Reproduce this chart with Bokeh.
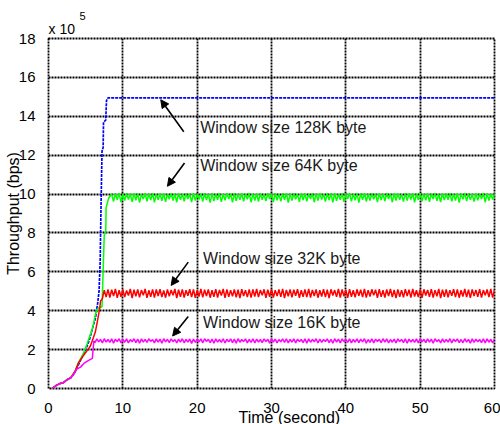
import numpy as np
from bokeh.plotting import figure
from bokeh.models import Range1d, FixedTicker, Label, Arrow, NormalHead, Title
from bokeh.embed import file_html
from bokeh.resources import INLINE

# ---- data: throughput (x 10^5 bps) versus time (s) for four TCP window sizes ----
X_TICKS = [0, 10, 20, 30, 40, 50, 60]
Y_TICKS = [0, 2, 4, 6, 8, 10, 12, 14, 16, 18]

# 128K window: slow start, then a flat line
BLUE_T = [0.5, 1.0, 1.5, 2.0, 2.5, 3.0, 3.5, 4.0, 4.5, 5.0, 5.5, 6.0, 6.3, 6.6,
          6.8, 6.95, 7.05, 7.2, 7.35, 7.4, 7.7, 7.8, 8.0, 60.0]
BLUE_V = [0, 0.15, 0.25, 0.3, 0.45, 0.55, 0.8, 1.2, 1.6, 2.0, 2.5, 3.2, 3.6, 4.35,
          5.0, 6.5, 9.0, 12.2, 12.4, 13.7, 13.8, 14.8, 14.95, 14.95]

# 64K window: slow start
GREEN_RISE_T = [0.5, 1.0, 1.5, 2.0, 2.5, 3.0, 3.6, 4.0, 4.7, 5.2, 5.65, 6.0, 6.3,
                6.7, 7.2, 7.5, 7.7, 7.75, 8.1, 8.5]
GREEN_RISE_V = [0, 0.15, 0.25, 0.3, 0.45, 0.55, 0.9, 1.3, 1.8, 2.3, 2.8, 3.2, 3.8,
                4.15, 4.2, 7.9, 8.0, 9.3, 9.8, 10.0]
# 64K window: steady state, sampled every 0.25 s from 8.75 s
GREEN_STEADY_START = 8.75
GREEN_STEADY = [
    9.62, 10.02, 9.70, 10.05, 9.58, 10.00, 9.66, 10.04, 9.72, 10.01, 9.60, 10.05, 9.68, 10.03, 9.56, 10.00, 9.74, 10.04,
    9.63, 10.02, 9.69, 10.05, 9.57, 10.01, 9.71, 10.03, 9.65, 10.05, 9.60, 10.00, 9.73, 10.04, 9.67, 10.02, 9.58, 10.05,
    9.70, 10.01, 9.62, 10.04, 9.75, 10.02, 9.59, 10.05, 9.66, 10.00, 9.72, 10.03, 9.61, 10.05, 9.69, 10.01, 9.56, 10.04,
    9.64, 10.02, 9.71, 10.05, 9.60, 10.00, 9.68, 10.04, 9.74, 10.03, 9.57, 10.05, 9.65, 10.01, 9.70, 10.04, 9.62, 10.02,
    9.73, 10.05, 9.58, 10.01, 9.67, 10.03, 9.61, 10.05, 9.70, 10.00, 9.64, 10.04, 9.75, 10.02, 9.59, 10.05, 9.68, 10.01,
    9.62, 10.03, 9.71, 10.05, 9.56, 10.02, 9.66, 10.04, 9.73, 10.00, 9.60, 10.05, 9.69, 10.03, 9.63, 10.01, 9.74, 10.04,
    9.58, 10.02, 9.67, 10.05, 9.72, 10.01, 9.61, 10.04, 9.69, 10.03, 9.57, 10.05, 9.65, 10.00, 9.71, 10.04, 9.60, 10.02,
    9.74, 10.05, 9.63, 10.01, 9.68, 10.04, 9.56, 10.03, 9.70, 10.05, 9.62, 10.00, 9.66, 10.04, 9.73, 10.02, 9.59, 10.05,
    9.69, 10.01, 9.64, 10.04, 9.75, 10.02, 9.58, 10.05, 9.67, 10.03, 9.71, 10.00, 9.61, 10.05, 9.66, 10.02, 9.72, 10.04,
    9.57, 10.03, 9.70, 10.05, 9.63, 10.01, 9.68, 10.04, 9.60, 10.02, 9.74, 10.05, 9.65, 10.00, 9.59, 10.04, 9.69, 10.03,
    9.71, 10.05, 9.62, 10.02, 9.67, 10.04, 9.56, 10.01, 9.73, 10.05, 9.64, 10.03, 9.70, 10.00, 9.61, 10.04, 9.68, 10.02,
    9.75, 10.05, 9.58, 10.03, 9.66, 10.01, 9.72, 10.04, 9.60, 10.05, 9.69, 10.02, 9.63, 10.04, 9.70, 10.00, 9.65, 10.03,
]

# 32K window: slow start
RED_RISE_T = [0.5, 1.0, 1.5, 2.0, 2.5, 3.0, 3.6, 4.0, 4.7, 5.4, 5.65, 6.3, 6.6, 6.9, 7.0]
RED_RISE_V = [0, 0.15, 0.25, 0.3, 0.45, 0.55, 0.9, 1.3, 1.7, 2.05, 2.2, 2.9, 3.5, 4.15, 4.5]
# 32K window: steady state, sampled every 0.25 s from 7.25 s
RED_STEADY_START = 7.25
RED_STEADY = [
    4.62, 5.06, 4.70, 5.10, 4.68, 5.08, 4.75, 5.12, 4.66, 5.06, 4.72, 5.10, 4.70, 5.04, 4.78, 5.12, 4.65, 5.08,
    4.74, 5.10, 4.69, 5.06, 4.80, 5.12, 4.66, 5.05, 4.72, 5.10, 4.68, 5.09, 4.76, 5.11, 4.70, 5.04, 4.67, 5.10,
    4.74, 5.07, 4.79, 5.12, 4.65, 5.08, 4.71, 5.10, 4.68, 5.05, 4.77, 5.11, 4.70, 5.09, 4.66, 5.06, 4.73, 5.12,
    4.69, 5.08, 4.75, 5.10, 4.67, 5.05, 4.72, 5.11, 4.68, 5.07, 4.78, 5.12, 4.66, 5.09, 4.71, 5.06, 4.74, 5.10,
    4.69, 5.08, 4.65, 5.11, 4.76, 5.05, 4.70, 5.10, 4.67, 5.09, 4.73, 5.12, 4.70, 5.06, 4.79, 5.10, 4.66, 5.08,
    4.72, 5.11, 4.68, 5.05, 4.75, 5.09, 4.71, 5.12, 4.65, 5.07, 4.74, 5.10, 4.69, 5.08, 4.77, 5.11, 4.66, 5.06,
    4.72, 5.09, 4.70, 5.12, 4.68, 5.07, 4.76, 5.10, 4.67, 5.05, 4.73, 5.11, 4.70, 5.08, 4.65, 5.10, 4.78, 5.06,
    4.71, 5.12, 4.68, 5.09, 4.74, 5.07, 4.66, 5.11, 4.72, 5.05, 4.69, 5.10, 4.77, 5.08, 4.70, 5.12, 4.67, 5.06,
    4.73, 5.10, 4.79, 5.08, 4.66, 5.11, 4.71, 5.05, 4.68, 5.09, 4.75, 5.12, 4.70, 5.07, 4.65, 5.10, 4.72, 5.06,
    4.69, 5.11, 4.76, 5.08, 4.67, 5.12, 4.73, 5.05, 4.70, 5.09, 4.66, 5.10, 4.78, 5.07, 4.71, 5.11, 4.68, 5.06,
    4.74, 5.12, 4.65, 5.08, 4.72, 5.10, 4.69, 5.06, 4.77, 5.11, 4.70, 5.09, 4.67, 5.05, 4.73, 5.12, 4.70, 5.08,
    4.66, 5.10, 4.75, 5.07, 4.71, 5.11, 4.68, 5.06, 4.79, 5.09, 4.70, 5.12, 4.67, 5.08, 4.74, 5.10, 4.69, 5.06,
]

# 16K window: slow start
MAGENTA_RISE_T = [0.5, 1.0, 1.5, 2.0, 2.5, 3.0, 3.5, 3.8, 4.3, 4.8, 5.4, 5.9, 6.1]
MAGENTA_RISE_V = [0, 0.15, 0.25, 0.3, 0.45, 0.55, 0.8, 1.0, 1.1, 1.3, 1.45, 1.55, 2.45]
# 16K window: steady state, sampled every 0.25 s from 6.25 s
MAGENTA_STEADY_START = 6.25
MAGENTA_STEADY = [
    2.36, 2.55, 2.40, 2.53, 2.34, 2.56, 2.39, 2.52, 2.37, 2.55, 2.33, 2.54, 2.41, 2.56, 2.35, 2.53, 2.38, 2.55,
    2.34, 2.52, 2.40, 2.56, 2.36, 2.54, 2.33, 2.55, 2.39, 2.53, 2.37, 2.56, 2.42, 2.52, 2.35, 2.55, 2.38, 2.54,
    2.33, 2.56, 2.40, 2.53, 2.36, 2.55, 2.41, 2.52, 2.34, 2.54, 2.38, 2.56, 2.35, 2.53, 2.39, 2.55, 2.32, 2.54,
    2.37, 2.52, 2.40, 2.55, 2.35, 2.56, 2.42, 2.53, 2.36, 2.54, 2.33, 2.55, 2.39, 2.52, 2.37, 2.56, 2.34, 2.53,
    2.40, 2.55, 2.36, 2.54, 2.33, 2.56, 2.38, 2.52, 2.41, 2.55, 2.35, 2.53, 2.37, 2.56, 2.34, 2.54, 2.39, 2.52,
    2.36, 2.55, 2.42, 2.53, 2.33, 2.56, 2.38, 2.54, 2.35, 2.52, 2.40, 2.55, 2.37, 2.56, 2.34, 2.53, 2.39, 2.55,
    2.35, 2.54, 2.41, 2.52, 2.36, 2.56, 2.33, 2.55, 2.38, 2.53, 2.40, 2.56, 2.34, 2.54, 2.37, 2.52, 2.42, 2.55,
    2.36, 2.53, 2.33, 2.56, 2.39, 2.54, 2.35, 2.55, 2.41, 2.52, 2.37, 2.56, 2.34, 2.53, 2.38, 2.55, 2.36, 2.54,
    2.40, 2.56, 2.33, 2.52, 2.37, 2.55, 2.35, 2.54, 2.42, 2.53, 2.36, 2.56, 2.39, 2.55, 2.34, 2.52, 2.38, 2.54,
    2.35, 2.55, 2.41, 2.53, 2.36, 2.56, 2.33, 2.54, 2.39, 2.52, 2.37, 2.55, 2.34, 2.56, 2.40, 2.53, 2.36, 2.55,
    2.38, 2.54, 2.33, 2.56, 2.41, 2.52, 2.35, 2.55, 2.37, 2.53, 2.39, 2.56, 2.34, 2.54, 2.42, 2.55, 2.36, 2.52,
    2.35, 2.56, 2.39, 2.53, 2.33, 2.55, 2.37, 2.54, 2.40, 2.52, 2.36, 2.56, 2.34, 2.55, 2.38, 2.53, 2.35, 2.54,
]

SAMPLE_STEP = 0.25  # seconds between steady-state samples


def series(rise_t, rise_v, start, steady):
    t_steady = start + SAMPLE_STEP * np.arange(len(steady))
    return list(rise_t) + list(t_steady), list(rise_v) + list(steady)


FONT = "Liberation Sans"

p = figure(width=500, height=424,
           x_range=Range1d(0, 60), y_range=Range1d(0, 18),
           output_backend="svg", toolbar_location=None,
           min_border_left=48, min_border_right=6,
           min_border_top=38, min_border_bottom=36)
p.background_fill_color = "white"
p.border_fill_color = "white"
p.outline_line_color = "black"
p.outline_line_width = 1.8
p.outline_line_dash = "2 1"

# exponent marker above the y axis: "x 10" with a raised "5"
p.title.text = "5"
p.title.align = "left"
p.title.offset = 31
p.title.text_font = FONT
p.title.text_font_size = "11px"
p.title.text_font_style = "normal"
p.title.text_color = "black"
p.title.standoff = -4
p.add_layout(Title(text="x 10", align="left", text_font=FONT,
                   text_font_size="14px", text_font_style="normal",
                   text_color="black", standoff=3), "above")

# axes
p.xaxis.ticker = FixedTicker(ticks=X_TICKS)
p.yaxis.ticker = FixedTicker(ticks=Y_TICKS)
for ax in (p.xaxis, p.yaxis):
    ax.axis_line_color = None
    ax.major_tick_line_color = None
    ax.minor_tick_line_color = None
    ax.major_label_text_font = FONT
    ax.major_label_text_font_size = "15px"
    ax.major_label_text_color = "black"
p.xaxis.major_label_standoff = 8
p.yaxis.major_label_standoff = 7
p.yaxis.axis_label = "Throughput (bps)"
p.yaxis.axis_label_text_font = FONT
p.yaxis.axis_label_text_font_size = "16px"
p.yaxis.axis_label_text_font_style = "normal"
p.yaxis.axis_label_text_color = "black"
p.yaxis.axis_label_standoff = -6

# x axis title, set a little right of the frame centre
p.add_layout(Title(text="Time (second)", align="left", offset=190,
                   text_font=FONT, text_font_size="16px",
                   text_font_style="normal", text_color="black",
                   standoff=-20), "below")

# dotted grid
p.grid.grid_line_color = "black"
p.grid.grid_line_width = 1.8
p.grid.grid_line_dash = "2 1"
p.grid.grid_line_alpha = 1.0

# curves
bt, bv = BLUE_T, BLUE_V
gt, gv = series(GREEN_RISE_T, GREEN_RISE_V, GREEN_STEADY_START, GREEN_STEADY)
rt, rv = series(RED_RISE_T, RED_RISE_V, RED_STEADY_START, RED_STEADY)
mt, mv = series(MAGENTA_RISE_T, MAGENTA_RISE_V, MAGENTA_STEADY_START, MAGENTA_STEADY)

p.line(bt, bv, line_color="#0000ff", line_width=1.7, line_dash="3 1")
p.line(gt, gv, line_color="#00ff00", line_width=1.5)
p.line(rt, rv, line_color="#ff0000", line_width=1.5)
p.line(mt, mv, line_color="#ff00ff", line_width=1.5)

# annotations: (text, text_x, text_y, arrow tail x, tail y, head x, head y)
notes = [
    ("Window size 128K byte", 20.4, 13.4, 18.2, 13.2, 15.1, 14.85),
    ("Window size 64K byte", 20.4, 11.45, 18.3, 11.6, 16.0, 10.4),
    ("Window size 32K byte", 20.8, 6.7, 18.8, 6.5, 16.5, 5.3),
    ("Window size 16K byte", 20.8, 3.4, 18.8, 3.7, 16.7, 2.7),
]
for text, tx, ty, x0, y0, x1, y1 in notes:
    p.add_layout(Label(x=tx, y=ty, text=text, text_font=FONT,
                       text_font_size="16px", text_color="#1a1a1a",
                       text_baseline="middle", text_align="left"))
    p.add_layout(Arrow(x_start=x0, y_start=y0, x_end=x1, y_end=y1,
                       line_color="black", line_width=1.6,
                       end=NormalHead(size=8, fill_color="black",
                                      line_color="black", line_width=1)))

open("out.html", "w").write(file_html(p, INLINE))
